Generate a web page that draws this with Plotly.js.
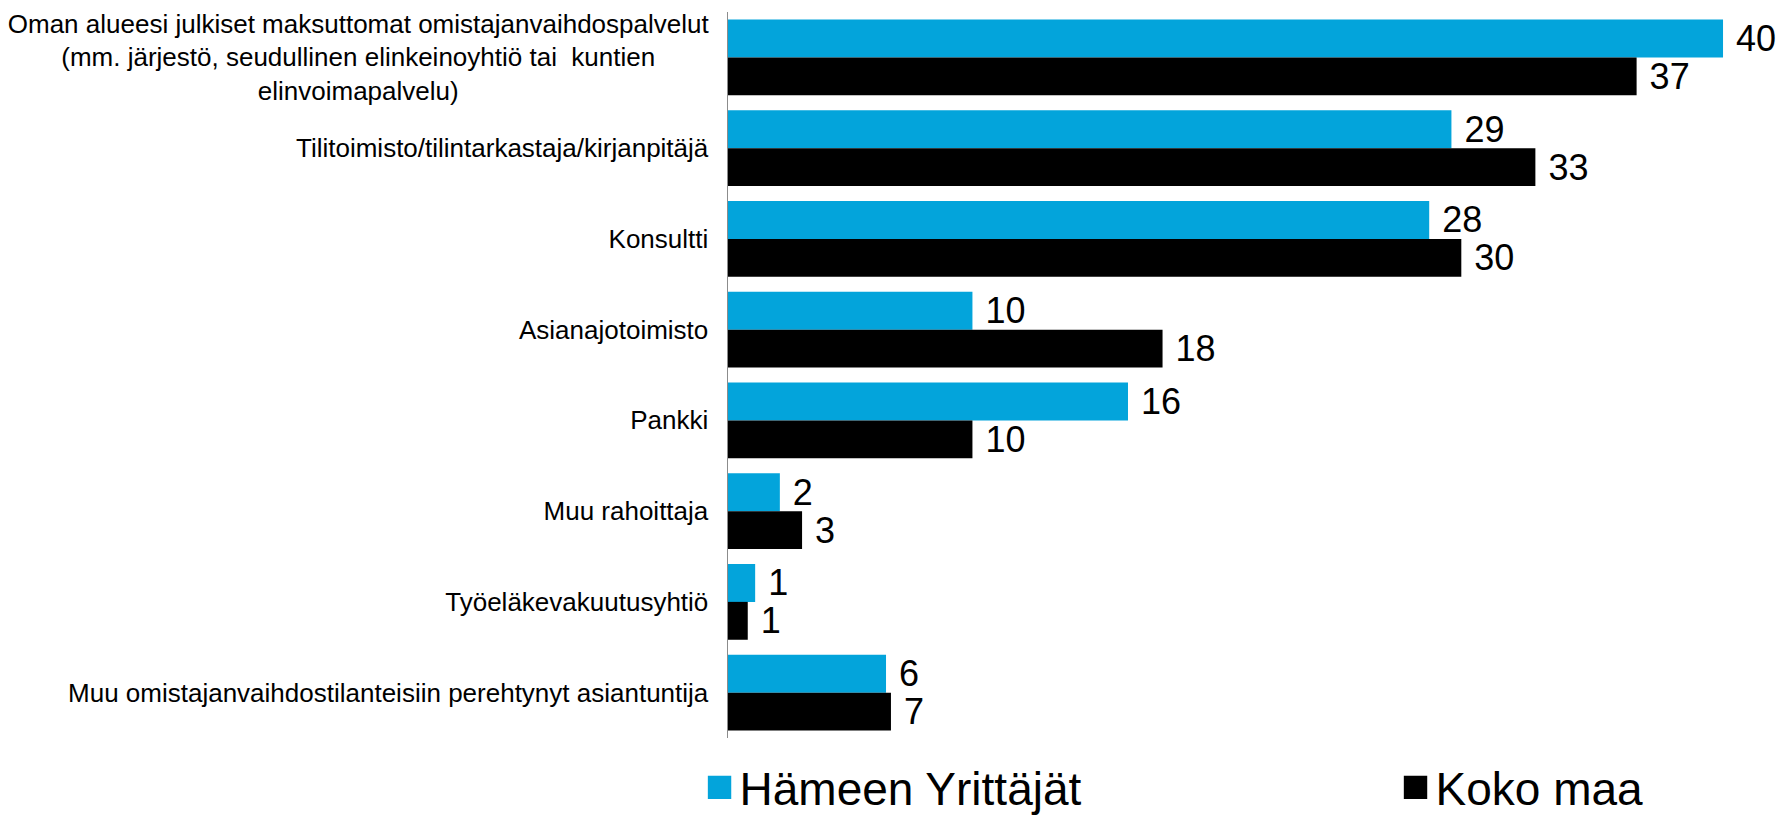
<!DOCTYPE html>
<html>
<head>
<meta charset="utf-8">
<script src="https://cdn.plot.ly/plotly-3.0.1.min.js"></script>
<style>
  html, body { margin: 0; padding: 0; background: #fff; }
  #chart { width: 1780px; height: 816px; }
</style>
</head>
<body>
<div id="chart"></div>
<script>
// categories, top to bottom
var categories = [
  'Oman alueesi julkiset maksuttomat omistajanvaihdospalvelut<br>(mm. järjestö, seudullinen elinkeinoyhtiö tai  kuntien<br>elinvoimapalvelu)',
  'Tilitoimisto/tilintarkastaja/kirjanpitäjä',
  'Konsultti',
  'Asianajotoimisto',
  'Pankki',
  'Muu rahoittaja',
  'Työeläkevakuutusyhtiö',
  'Muu omistajanvaihdostilanteisiin perehtynyt asiantuntija'
];

var seriesNames = ['Hämeen Yrittäjät', 'Koko maa'];

// percentages (labels show them rounded)
var hameValues = [40.3, 29.3, 28.4, 9.9, 16.2, 2.1, 1.1, 6.4];
var kokoValues = [36.8, 32.7, 29.7, 17.6, 9.9, 3.0, 0.8, 6.6];

var FONT = 'Arial, "Liberation Sans", sans-serif';

function barTrace(name, values, color, legendId) {
  return {
    type: 'bar',
    orientation: 'h',
    name: name,
    legend: legendId,
    y: categories,
    x: values,
    marker: { color: color },
    texttemplate: '\u00a0%{x:.0f}',
    textposition: 'outside',
    constraintext: 'none',
    cliponaxis: false,
    textfont: { family: FONT, size: 36, color: '#000' },
    hoverinfo: 'x+y'
  };
}

var data = [
  barTrace(seriesNames[0], hameValues, '#03A4DB', 'legend'),
  barTrace(seriesNames[1], kokoValues, '#000000', 'legend2')
];

function legendAt(x) {
  return {
    orientation: 'h',
    xref: 'container',
    yref: 'container',
    x: x,
    xanchor: 'left',
    y: 0.035,
    yanchor: 'middle',
    font: { family: FONT, size: 46, color: '#000' },
    bgcolor: 'rgba(0,0,0,0)'
  };
}

var layout = {
  width: 1780,
  height: 816,
  margin: { l: 728, r: 15, t: 12, b: 78 },
  paper_bgcolor: '#fff',
  plot_bgcolor: '#fff',
  font: { family: FONT, color: '#000' },
  barmode: 'group',
  bargap: 0.165,
  bargroupgap: 0,
  xaxis: {
    range: [0, 42],
    showgrid: false,
    zeroline: false,
    showline: false,
    showticklabels: false,
    ticks: ''
  },
  yaxis: {
    autorange: 'reversed',
    showgrid: false,
    zeroline: false,
    showline: true,
    linecolor: '#8c8c8c',
    linewidth: 1.5,
    ticks: '',
    ticklabelstandoff: 13,
    tickfont: { family: FONT, size: 26, color: '#000' }
  },
  showlegend: true,
  legend: legendAt(0.393),
  legend2: legendAt(0.784)
};

Plotly.newPlot('chart', data, layout, { displayModeBar: false, staticPlot: true }).then(function (gd) {
  // centre the lines of multi-line category labels like the original
  gd.querySelectorAll('.ytick text').forEach(function (t) {
    var lines = t.querySelectorAll('tspan.line');
    if (lines.length < 2) return;
    var box = t.getBBox();
    var cx = box.x + box.width / 2;
    t.setAttribute('text-anchor', 'middle');
    t.setAttribute('x', cx);
    lines.forEach(function (l) { l.setAttribute('x', cx); });
  });
  // bigger legend squares
  gd.querySelectorAll('.legendpoints path').forEach(function (p) {
    var tr = p.getAttribute('transform') || '';
    p.setAttribute('transform', tr + ' scale(1.95)');
  });
});
</script>
</body>
</html>
